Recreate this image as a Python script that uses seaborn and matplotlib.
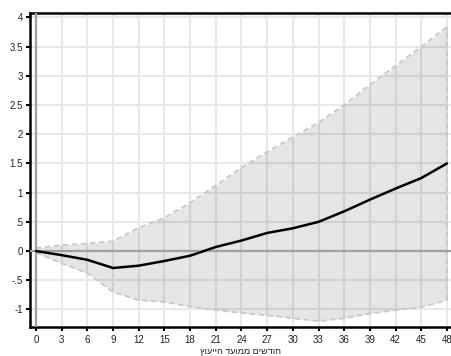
import matplotlib
matplotlib.use("Agg")
import matplotlib.pyplot as plt
import seaborn as sns
import pandas as pd

# Months since consultation
months = [0, 3, 6, 9, 12, 15, 18, 21, 24, 27, 30, 33, 36, 39, 42, 45, 48]
# Point estimate
effect = [0.0, -0.07, -0.15, -0.29, -0.25, -0.17, -0.08, 0.07, 0.18, 0.31,
          0.39, 0.50, 0.68, 0.88, 1.07, 1.25, 1.50]
# Confidence band
upper = [0.05, 0.10, 0.13, 0.17, 0.40, 0.57, 0.83, 1.12, 1.43, 1.70,
         1.95, 2.20, 2.50, 2.85, 3.17, 3.50, 3.84]
lower = [-0.03, -0.21, -0.38, -0.70, -0.84, -0.87, -0.95, -1.01, -1.06, -1.10,
         -1.15, -1.20, -1.15, -1.07, -1.01, -0.96, -0.84]

x_ticks = list(range(0, 49, 3))
y_ticks = [-1, -0.5, 0, 0.5, 1, 1.5, 2, 2.5, 3, 3.5, 4]
y_tick_labels = ["-1", "-.5", "0", ".5", "1", "1.5", "2", "2.5", "3", "3.5", "4"]
x_label = "חודשים ממועד הייעוץ"

df = pd.DataFrame({"month": months, "effect": effect, "upper": upper, "lower": lower})

sns.set_theme(style="white")
plt.rcParams["font.family"] = ["Liberation Sans", "DejaVu Sans"]

fig = plt.figure(figsize=(4.51, 3.56), dpi=100)
ax = fig.add_axes([30 / 451, 29 / 356, 421 / 451, 314 / 356])

ax.set_xlim(-0.70, 48.47)
ax.set_ylim(-1.30, 4.075)

ax.set_xticks(x_ticks)
ax.set_yticks(y_ticks)
ax.set_yticklabels(y_tick_labels)
ax.grid(True, color="#e8e8e8", linewidth=1.5, zorder=0)
ax.set_axisbelow(True)

# Confidence band, translucent so the grid shows through
ax.fill_between(df["month"], df["lower"], df["upper"], color="black", alpha=0.1,
                linewidth=0, zorder=1)
band_style = dict(color="#c8c8c8", linewidth=1.3, linestyle=(0, (3, 2)), zorder=2)
sns.lineplot(data=df, x="month", y="upper", ax=ax, **band_style)
sns.lineplot(data=df, x="month", y="lower", ax=ax, **band_style)
ax.vlines(df["month"].iloc[-1], df["lower"].iloc[-1], df["upper"].iloc[-1], **band_style)

# Reference lines at zero
ax.axhline(0, color="#a0a0a0", linewidth=1.6, zorder=3)
ax.axvline(0, color="#a0a0a0", linewidth=1.6, zorder=3)

sns.lineplot(data=df, x="month", y="effect", ax=ax, color="black", linewidth=1.8, zorder=4)

for side in ["left", "top", "bottom"]:
    ax.spines[side].set_color("black")
    ax.spines[side].set_linewidth(1.8)
ax.spines["right"].set_visible(False)

ax.tick_params(axis="both", direction="out", length=3, width=1.5, color="black",
               labelsize=7, pad=2, labelcolor="#222222")
ax.tick_params(axis="x", bottom=True, pad=3)
ax.tick_params(axis="y", left=True)

# matplotlib has no bidi support, so the Hebrew label is passed in visual order
ax.set_xlabel(x_label[::-1], fontsize=6.5, labelpad=1, color="#222222")
ax.set_ylabel("")

fig.savefig("out.png", dpi=100)
